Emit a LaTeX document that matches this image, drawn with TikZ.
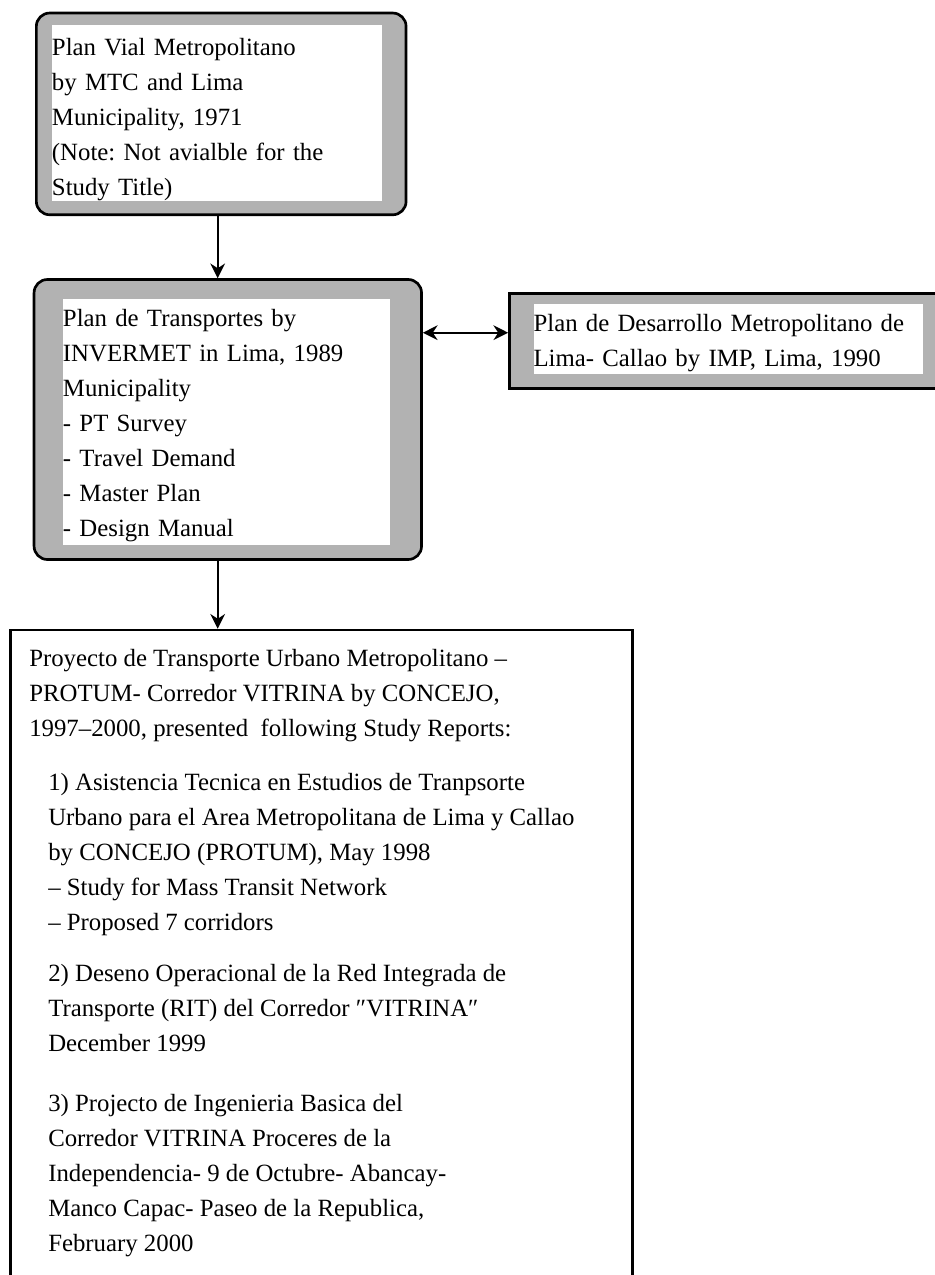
\documentclass[tikz,border=0pt]{standalone}
\usepackage{fontspec}
\setmainfont{Liberation Serif}
\frenchspacing
\usetikzlibrary{arrows.meta, positioning}
\tikzstyle{frame} = [rectangle, rounded corners=10pt, line width=2pt, draw=black, fill=black!30, inner sep=0pt]
\tikzstyle{plainframe} = [rectangle, line width=2pt, draw=black, fill=black!30, inner sep=0pt]
\tikzstyle{sheet} = [rectangle, fill=white, inner sep=0pt, align=left, anchor=north west]
\tikzstyle{report} = [rectangle, line width=2pt, draw=black, fill=white, inner sep=0pt]
\tikzstyle{entry} = [inner sep=0pt, align=left, anchor=north west]
\tikzstyle{arrow} = [line width=1.6pt, ->, >={Stealth[length=11pt, width=11pt]}]
\newcommand{\topgap}[1]{\rule{0pt}{#1}}
\newcommand{\botgap}[1]{\rule[-#1]{0pt}{#1}}

\begin{document}
\begin{tikzpicture}[x=0.75pt, y=-0.75pt, font=\fontsize{18.6}{26.25}\selectfont]
 \useasboundingbox (0,0) rectangle (935,1275);

 % grey frames and the big report box
 \node (vialframe) [frame, minimum width=277.3pt, minimum height=151.3pt] at (221.2,113.9) {};
 \node (transframe) [frame, minimum width=290.6pt, minimum height=210pt] at (227.8,419.5) {};
 \node (desframe) [plainframe, minimum width=330.4pt, minimum height=71.1pt] at (729.75,341.1) {};
 \node (protumbox) [report, minimum width=466.5pt, minimum height=502.5pt] at (321.5,965) {};

 % white sheets with the plan titles
 \node (vial) [sheet, text width=247.5pt] at (51.7,25) {\topgap{22.5pt}Plan Vial Metropolitano\\ by MTC and Lima\\ Municipality, 1971\\ (Note: Not avialble for the\\ Study Title)\botgap{4.3pt}};
 \node (trans) [sheet, text width=245.25pt] at (62.7,298.3) {\topgap{21.3pt}Plan de Transportes by\\ INVERMET in Lima, 1989\\ Municipality\\ - PT Survey\\ - Travel Demand\\ - Master Plan\\ - Design Manual\botgap{6.3pt}};
 \node (des) [sheet, text width=291.75pt] at (533.3,303.3) {\topgap{21.3pt}Plan de Desarrollo Metropolitano de\\ Lima- Callao by IMP, Lima, 1990\botgap{5.5pt}};

 % study reports
 \node (protum) [entry] at (29,646.7) {\topgap{15pt}Proyecto de Transporte Urbano Metropolitano –\\ PROTUM- Corredor VITRINA by CONCEJO,\\ 1997–2000, presented\ \ following Study Reports:};
 \node (report1) [entry] at (48,770) {\topgap{15pt}1) Asistencia Tecnica en Estudios de Tranpsorte\\ Urbano para el Area Metropolitana de Lima y Callao\\ by CONCEJO (PROTUM), May 1998\\ – Study for Mass Transit Network\\ – Proposed 7 corridors};
 \node (report2) [entry] at (48,961.7) {\topgap{15pt}2) Deseno Operacional de la Red Integrada de\\ Transporte (RIT) del Corredor ″VITRINA″\\ December 1999};
 \node (report3) [entry] at (48,1091.7) {\topgap{15pt}3) Projecto de Ingenieria Basica del\\ Corredor VITRINA Proceres de la\\ Independencia- 9 de Octubre- Abancay-\\ Manco Capac- Paseo de la Republica,\\ February 2000};

 % connectors
 \coordinate (spine) at (217.7,0);
 \coordinate (linkrow) at (0,332.7);
 \draw [arrow] (vialframe.south -| spine) -- (transframe.north -| spine);
 \draw [arrow] (transframe.south -| spine) -- (protumbox.north -| spine);
 \draw [arrow, <->] (transframe.east |- linkrow) -- (desframe.west |- linkrow);
\end{tikzpicture}
\end{document}
